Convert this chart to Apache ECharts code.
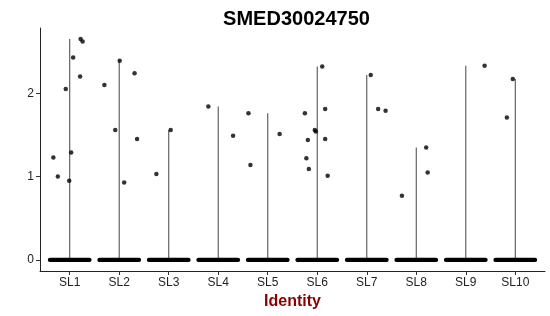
<!DOCTYPE html>
<html><head><meta charset="utf-8">
<script src="https://cdn.jsdelivr.net/npm/echarts@6/dist/echarts.min.js"></script>
<style>html,body{margin:0;padding:0;background:#fff}#c{width:550px;height:316px}</style>
</head><body><div id="c"></div>
<script>
var title = 'SMED30024750';
var categories = ['SL1','SL2','SL3','SL4','SL5','SL6','SL7','SL8','SL9','SL10'];
var yTicks = [0, 1, 2];
// non-zero cells per identity: [jitter offset (category units), expression]
var SL1 = [[-0.33,1.23],[-0.24,1.00],[-0.08,2.05],[-0.01,0.95],[0.03,1.29],[0.07,2.43],[0.21,2.20],[0.22,2.65],[0.26,2.62]];
var SL2 = [[-0.30,2.10],[-0.08,1.56],[0.01,2.39],[0.10,0.93],[0.31,2.24],[0.36,1.45]];
var SL3 = [[-0.25,1.03],[0.04,1.56]];
var SL4 = [[-0.20,1.84],[0.30,1.49]];
var SL5 = [[-0.39,1.76],[-0.35,1.14],[0.24,1.51]];
var SL6 = [[-0.25,1.76],[0.10,2.32],[0.16,1.81],[-0.05,1.56],[-0.03,1.54],[-0.19,1.44],[0.16,1.45],[-0.22,1.22],[-0.17,1.09],[0.21,1.01]];
var SL7 = [[0.08,2.22],[0.23,1.81],[0.38,1.79]];
var SL8 = [[-0.29,0.77],[0.20,1.35],[0.23,1.05]];
var SL9 = [[0.38,2.33]];
var SL10 = [[-0.05,2.17],[-0.17,1.71]];
var groups = [SL1,SL2,SL3,SL4,SL5,SL6,SL7,SL8,SL9,SL10];
var jitterWidth = 0.4;

var points = [];
var violins = [];
var maxAll = 0;
groups.forEach(function(g, i){
  var m = 0;
  g.forEach(function(p){ points.push([i + 1 + p[0], p[1]]); if (p[1] > m) m = p[1]; });
  violins.push([i + 1, m]);
  if (m > maxAll) maxAll = m;
});
var zeros = categories.map(function(c, i){ return [i + 1, 0]; });
var pad = maxAll * 0.05;
var catValues = categories.map(function(c, i){ return i + 1; });

var chart = echarts.init(document.getElementById('c'), null, {renderer: 'canvas'});
var font = 'Liberation Sans, Arial, Helvetica, sans-serif';
chart.setOption({
  animation: false,
  title: {text: title, left: 291.5, top: 4, textAlign: 'center',
    textStyle: {fontFamily: font, fontWeight: 'bold', fontSize: 20, color: '#000'}},
  grid: {left: 40, right: 5, top: 28, bottom: 45, containLabel: false, outerBoundsMode: 'none'},
  xAxis: {
    type: 'value', min: 0.4, max: categories.length + 0.6,
    name: 'Identity', nameLocation: 'middle', nameGap: 22,
    nameTextStyle: {fontFamily: font, fontWeight: 'bold', fontSize: 16, color: '#8B0000'},
    axisLine: {show: true, onZero: false, lineStyle: {color: '#222', width: 1}},
    axisTick: {show: true, length: 4, lineStyle: {color: '#333'}, customValues: catValues},
    axisLabel: {customValues: catValues, margin: 6, fontFamily: font, fontSize: 12, color: '#222',
      formatter: function(v){ return categories[Math.round(v) - 1] || ''; }},
    splitLine: {show: false}
  },
  yAxis: {
    type: 'value', min: -pad, max: maxAll + pad,
    axisLine: {show: true, onZero: false, lineStyle: {color: '#222', width: 1}},
    axisTick: {show: true, length: 4, lineStyle: {color: '#333'}, customValues: yTicks},
    axisLabel: {customValues: yTicks, margin: 6, fontFamily: font, fontSize: 12, color: '#222'},
    splitLine: {show: false}
  },
  series: [
    {
      type: 'custom', data: violins, z: 1,
      renderItem: function(params, api){
        var a = api.coord([api.value(0), 0]);
        var b = api.coord([api.value(0), api.value(1)]);
        return {type: 'line', shape: {x1: a[0], y1: a[1], x2: b[0], y2: b[1]},
          style: {stroke: '#555', lineWidth: 1.1}};
      }
    },
    {
      type: 'custom', data: zeros, z: 2,
      renderItem: function(params, api){
        var a = api.coord([api.value(0) - jitterWidth, api.value(1)]);
        var b = api.coord([api.value(0) + jitterWidth, api.value(1)]);
        return {type: 'line', shape: {x1: a[0], y1: a[1], x2: b[0], y2: b[1]},
          style: {stroke: '#000', lineWidth: 4.2, lineCap: 'round'}};
      }
    },
    {
      type: 'scatter', data: points, symbol: 'circle', symbolSize: 4.5, z: 3,
      itemStyle: {color: '#000'}
    }
  ]
});
</script></body></html>
